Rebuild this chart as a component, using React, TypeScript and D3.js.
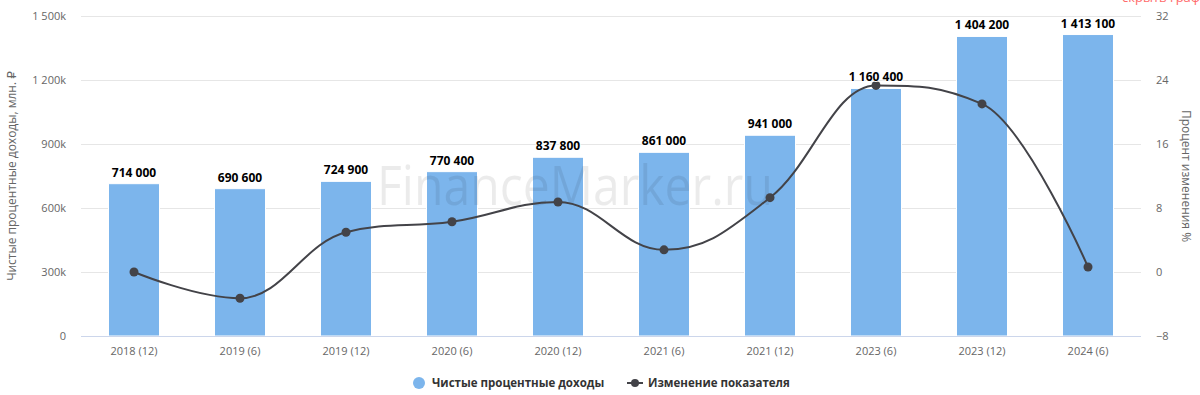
import React from "react";
import * as d3 from "d3";

const categories = ["2018 (12)", "2019 (6)", "2019 (12)", "2020 (6)", "2020 (12)", "2021 (6)", "2021 (12)", "2023 (6)", "2023 (12)", "2024 (6)"];
const incomeValues = [714000, 690600, 724900, 770400, 837800, 861000, 941000, 1160400, 1404200, 1413100];
const changeValues = [0, -3.28, 4.97, 6.28, 8.75, 2.77, 9.29, 23.32, 21.01, 0.63];
const leftTicks = [0, 300000, 600000, 900000, 1200000, 1500000];
const rightTicks = [-8, 0, 8, 16, 24, 32];

const W = 1200, H = 395;
const M = { left: 81, right: 1141, top: 16, bottom: 336 };
const FONT = "'Open Sans', 'DejaVu Sans', sans-serif";

const fmt = (v: number) => d3.format(",")(v).replace(/,/g, " ");
const fmtK = (v: number) => (v === 0 ? "0" : fmt(v / 1000) + "k");

function splinePath(pts: [number, number][]) {
  const smoothing = 1.5, denom = smoothing + 1;
  const conts: { lx: number; ly: number; rx: number; ry: number }[] = pts.map(([x, y]) => ({ lx: x, ly: y, rx: x, ry: y }));
  for (let i = 1; i < pts.length - 1; i++) {
    const [px, py] = pts[i];
    const [lastX, lastY] = pts[i - 1];
    const [nextX, nextY] = pts[i + 1];
    const lx = (smoothing * px + lastX) / denom;
    let ly = (smoothing * py + lastY) / denom;
    const rx = (smoothing * px + nextX) / denom;
    let ry = (smoothing * py + nextY) / denom;
    let correction = 0;
    if (rx !== lx) correction = ((ry - ly) * (rx - px)) / (rx - lx) + py - ry;
    ly += correction;
    ry += correction;
    if (ly > lastY && ly > py) { ly = Math.max(lastY, py); ry = 2 * py - ly; }
    else if (ly < lastY && ly < py) { ly = Math.min(lastY, py); ry = 2 * py - ly; }
    if (ry > nextY && ry > py) { ry = Math.max(nextY, py); ly = 2 * py - ry; }
    else if (ry < nextY && ry < py) { ry = Math.min(nextY, py); ly = 2 * py - ry; }
    conts[i] = { lx, ly, rx, ry };
  }
  const p = d3.path();
  p.moveTo(pts[0][0], pts[0][1]);
  for (let i = 1; i < pts.length; i++) {
    p.bezierCurveTo(conts[i - 1].rx, conts[i - 1].ry, conts[i].lx, conts[i].ly, pts[i][0], pts[i][1]);
  }
  return p.toString();
}

export default function App() {
  const x = d3.scaleBand<string>().domain(categories).range([M.left, M.right]).paddingInner(0).paddingOuter(0);
  const yL = d3.scaleLinear().domain([0, 1500000]).range([M.bottom, M.top]);
  const yR = d3.scaleLinear().domain([-8, 32]).range([M.bottom, M.top]);
  const barW = 51;
  const cx = (c: string) => (x(c) as number) + x.bandwidth() / 2;
  const linePts: [number, number][] = categories.map((c, i) => [cx(c), yR(changeValues[i])]);

  return (
    <svg width={W} height={H} style={{ position: "absolute", left: 0, top: 0, fontFamily: FONT }}>
      <rect width={W} height={H} fill="#fff" />
      <text x={1122} y={2} fontSize={13} fill="#ff6b6b">скрыть график</text>
      {leftTicks.map((t) => (
        <line key={"g" + t} x1={M.left} x2={M.right} y1={Math.round(yL(t)) + 0.5} y2={Math.round(yL(t)) + 0.5} stroke="#e6e6e6" strokeWidth={1} />
      ))}
      {categories.map((c, i) => (
        <rect key={"b" + c} x={cx(c) - barW / 2} y={yL(incomeValues[i])} width={barW} height={M.bottom - yL(incomeValues[i])} fill="#7cb5ec" stroke="#fff" strokeWidth={1} />
      ))}
      <line x1={M.left} x2={M.right} y1={M.bottom + 0.5} y2={M.bottom + 0.5} stroke="#ccd6eb" strokeWidth={1} />
      <text x={377} y={205} fontSize={54} fill="#000" fillOpacity={0.08} textLength={396} lengthAdjust="spacingAndGlyphs">FinanceMarker.ru</text>
      <path d={splinePath(linePts)} fill="none" stroke="#434348" strokeWidth={2} />
      {linePts.map(([px, py], i) => (
        <circle key={"m" + i} cx={px} cy={py} r={4.5} fill="#434348" />
      ))}
      {categories.map((c, i) => (
        <text key={"l" + c} x={cx(c)} y={yL(incomeValues[i]) - 7} textAnchor="middle" fontSize={12} fontWeight={700} fill="#000" stroke="#fff" strokeWidth={2} paintOrder="stroke">{fmt(incomeValues[i])}</text>
      ))}
      {leftTicks.map((t) => (
        <text key={"lt" + t} x={66} y={yL(t) + 4} textAnchor="end" fontSize={11} fill="#666">{fmtK(t)}</text>
      ))}
      {rightTicks.map((t) => (
        <text key={"rt" + t} x={1156} y={yR(t) + 4} textAnchor="start" fontSize={11} fill="#666">{t < 0 ? "−" + Math.abs(t) : String(t)}</text>
      ))}
      {categories.map((c) => (
        <text key={"xt" + c} x={cx(c)} y={355} textAnchor="middle" fontSize={11} fill="#666">{c}</text>
      ))}
      <text transform={`translate(16,${(M.top + M.bottom) / 2}) rotate(-90)`} textAnchor="middle" fontSize={12} fill="#666">Чистые процентные доходы, млн. ₽</text>
      <text transform={`translate(1182,${(M.top + M.bottom) / 2}) rotate(90)`} textAnchor="middle" fontSize={12} fill="#666">Процент изменения %</text>
      <circle cx={419} cy={383} r={6} fill="#7cb5ec" />
      <text x={432} y={387} fontSize={11.5} fontWeight={700} fill="#333">Чистые процентные доходы</text>
      <line x1={627} x2={643} y1={383} y2={383} stroke="#434348" strokeWidth={2} />
      <circle cx={635} cy={383} r={4} fill="#434348" />
      <text x={648} y={387} fontSize={11.5} fontWeight={700} fill="#333">Изменение показателя</text>
    </svg>
  );
}
